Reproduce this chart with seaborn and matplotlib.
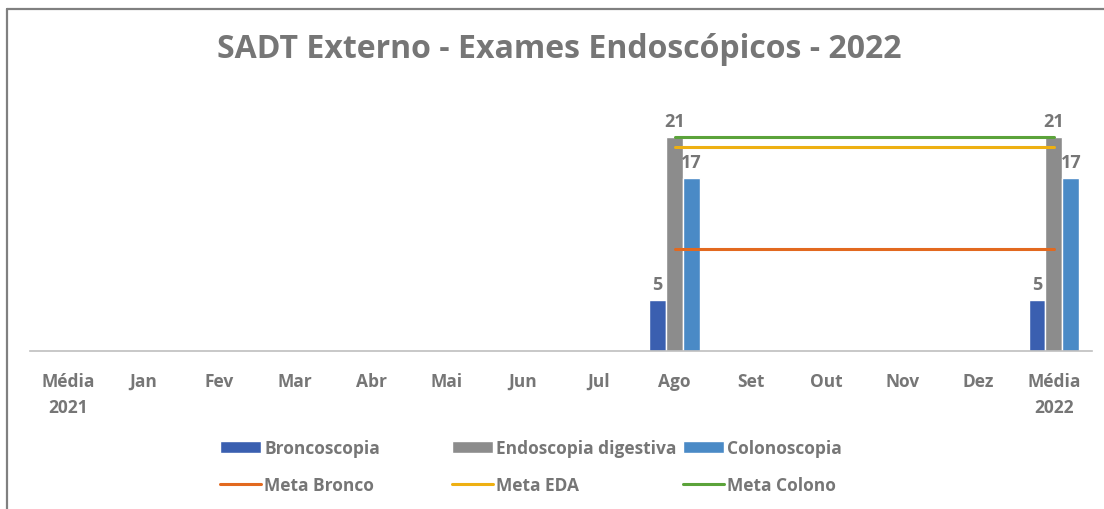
import numpy as np
import pandas as pd
import seaborn as sns
import matplotlib.pyplot as plt
from matplotlib.lines import Line2D

categories = ['Média\n2021', 'Jan', 'Fev', 'Mar', 'Abr', 'Mai', 'Jun', 'Jul',
              'Ago', 'Set', 'Out', 'Nov', 'Dez', 'Média\n2022']
broncoscopia = [None, None, None, None, None, None, None, None, 5, None, None, None, None, 5]
endoscopia = [None, None, None, None, None, None, None, None, 21, None, None, None, None, 21]
colonoscopia = [None, None, None, None, None, None, None, None, 17, None, None, None, None, 17]
meta_bronco = [None, None, None, None, None, None, None, None, 10, 10, 10, 10, 10, 10]
meta_eda = [None, None, None, None, None, None, None, None, 20, 20, 20, 20, 20, 20]
meta_colono = [None, None, None, None, None, None, None, None, 21, 21, 21, 21, 21, 21]

bar_series = {'Broncoscopia': broncoscopia,
              'Endoscopia digestiva': endoscopia,
              'Colonoscopia': colonoscopia}
bar_colors = ['#3a5fb0', '#8c8c8c', '#4a8ac6']
line_series = {'Meta Bronco': meta_bronco, 'Meta EDA': meta_eda, 'Meta Colono': meta_colono}
line_colors = ['#e2691f', '#eeb012', '#5ba33a']

rows = []
for name, vals in bar_series.items():
    for cat, v in zip(categories, vals):
        if v is not None:
            rows.append({'mes': cat, 'serie': name, 'valor': v})
df = pd.DataFrame(rows)

sns.set_style('white')
plt.rcParams['font.family'] = ['Open Sans', 'DejaVu Sans']
gray = '#767676'

fig = plt.figure(figsize=(11.04, 5.10), dpi=100)
ax = fig.add_axes([0.027, 0.31, 0.962, 0.50])

sns.barplot(data=df, x='mes', y='valor', hue='serie', order=categories,
            hue_order=list(bar_series), palette=bar_colors, width=0.67,
            saturation=1, ax=ax, legend=False)

for c in ax.containers:
    ax.bar_label(c, fmt='%d', padding=5, color=gray, fontsize=13, fontweight='bold')

xs = np.arange(len(categories))
line_handles = []
for (name, vals), col in zip(line_series.items(), line_colors):
    y = np.array([np.nan if v is None else v for v in vals], dtype=float)
    h, = ax.plot(xs, y, color=col, lw=2.2, zorder=5, label=name)
    line_handles.append(h)

ax.set_xlim(-0.5, len(categories) - 0.5)
ax.set_ylim(0, 25)
ax.set_xlabel('')
ax.set_ylabel('')
ax.set_yticks([])
for s in ['top', 'right', 'left']:
    ax.spines[s].set_visible(False)
ax.spines['bottom'].set_color('#bfbfbf')
ax.spines['bottom'].set_linewidth(1.2)
ax.set_xticks(xs)
ax.set_xticklabels(categories, color=gray, fontsize=12.5, fontweight='bold', linespacing=1.6)
ax.tick_params(axis='x', which='major', length=0, pad=15)
ax.set_xticks(np.arange(-0.5, len(categories)), minor=True)
ax.tick_params(axis='x', which='minor', length=5, color='#bfbfbf', width=1)

bar_handles = [c.patches[0] for c in ax.containers]
col_x = [220 / 1104, 452 / 1104, 683 / 1104]
for i in range(3):
    leg = fig.legend([bar_handles[i], line_handles[i]],
                     [list(bar_series)[i], list(line_series)[i]],
                     loc='upper left', bbox_to_anchor=(col_x[i], 1 - 440 / 510),
                     frameon=False, handlelength=2.35, handletextpad=0.2,
                     labelspacing=1.1, borderaxespad=0, borderpad=0,
                     prop={'size': 12.5, 'weight': 'bold'})
    for t in leg.get_texts():
        t.set_color(gray)

fig.text(0.507, 1 - 50 / 510, 'SADT Externo - Exames Endoscópicos - 2022',
         ha='center', va='center', fontsize=23, fontweight='bold', color=gray)

fig.add_artist(Line2D([7 / 1104, 7 / 1104], [0, 1 - 10 / 510], color='#808080', lw=1.6))
fig.add_artist(Line2D([7 / 1104, 1], [1 - 10 / 510, 1 - 10 / 510], color='#808080', lw=1.6))

fig.savefig('out.png', dpi=100)
